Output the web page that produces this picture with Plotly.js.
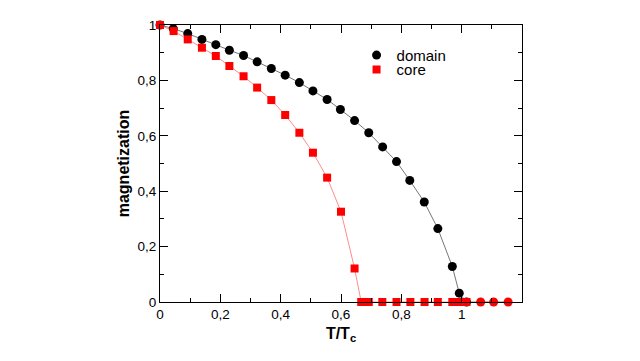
<!DOCTYPE html>
<html>
<head>
<meta charset="utf-8">
<script src="https://cdn.plot.ly/plotly-3.0.1.min.js"></script>
<style>html,body{margin:0;padding:0;background:#fff;}#chart{width:640px;height:361px;}</style>
</head>
<body>
<div id="chart"></div>
<script>
// T/Tc values and magnetization
const domainT = [0, 0.044, 0.092, 0.139, 0.185, 0.230, 0.277, 0.322, 0.369, 0.415, 0.462, 0.507, 0.554, 0.598, 0.645, 0.692, 0.738, 0.784, 0.828, 0.876, 0.921, 0.969, 0.992, 1.016, 1.063, 1.106, 1.154];
const domainM = [1.0, 0.987, 0.969, 0.948, 0.929, 0.909, 0.890, 0.867, 0.843, 0.819, 0.792, 0.762, 0.731, 0.695, 0.655, 0.611, 0.560, 0.507, 0.439, 0.361, 0.265, 0.128, 0.032, 0, 0, 0, 0];
const coreT = [0, 0.045, 0.092, 0.139, 0.185, 0.230, 0.277, 0.322, 0.369, 0.415, 0.462, 0.507, 0.554, 0.600, 0.645, 0.667, 0.692, 0.737, 0.784, 0.830, 0.877, 0.921, 0.969, 0.992, 1.016];
const coreM = [1.0, 0.978, 0.948, 0.918, 0.888, 0.852, 0.815, 0.774, 0.729, 0.675, 0.611, 0.539, 0.449, 0.326, 0.121, 0, 0, 0, 0, 0, 0, 0, 0, 0, 0];
const seriesNames = ['domain', 'core'];
const xTicks = [0, 0.2, 0.4, 0.6, 0.8, 1];
const xTitle = 'T/T<sub>c</sub>';
const yTitle = 'magnetization';

const domainColors = domainT.map(t => t > 1.04 ? '#ff0000' : '#000000');

const traces = [
  {
    x: domainT, y: domainM, name: seriesNames[0], type: 'scatter', mode: 'lines',
    line: {color: '#777777', width: 1}, showlegend: false, hoverinfo: 'skip'
  },
  {
    x: coreT, y: coreM, name: seriesNames[1], type: 'scatter', mode: 'lines',
    line: {color: '#ff8c8c', width: 1}, showlegend: false, hoverinfo: 'skip'
  },
  {
    x: domainT, y: domainM, name: seriesNames[0], type: 'scatter', mode: 'markers',
    marker: {symbol: 'circle', size: 9, color: domainColors},
    cliponaxis: false
  },
  {
    x: coreT, y: coreM, name: seriesNames[1], type: 'scatter', mode: 'markers',
    marker: {symbol: 'square', size: 8, color: '#ff0000'},
    cliponaxis: false
  }
];

const font = {family: 'Liberation Sans, Arial, sans-serif', color: '#000'};

const layout = {
  width: 640, height: 361,
  margin: {l: 160, r: 118, t: 25, b: 59, pad: 0},
  paper_bgcolor: '#fff', plot_bgcolor: '#fff',
  separators: ', ',
  font: font,
  showlegend: true,
  legend: {
    x: 0.543, y: 0.95, xanchor: 'left', yanchor: 'top',
    bgcolor: 'rgba(0,0,0,0)', borderwidth: 0,
    font: {family: font.family, size: 15, color: '#000'},
    itemwidth: 30
  },
  xaxis: {
    range: [0, 1.2], tickmode: 'array', tickvals: xTicks,
    ticks: 'inside', ticklen: 8, tickwidth: 1, tickcolor: '#000',
    minor: {tickmode: 'linear', tick0: 0, dtick: 0.1, ticks: 'inside', ticklen: 4, tickcolor: '#000', showgrid: false},
    showline: true, linecolor: '#000', linewidth: 1, mirror: 'ticks',
    showgrid: false, zeroline: false,
    tickfont: {family: font.family, size: 13.5, color: '#000'},
    title: {text: xTitle, font: {family: font.family, size: 16, color: '#000', weight: 'bold'}, standoff: 6},
    automargin: false
  },
  yaxis: {
    range: [0, 1], tickmode: 'linear', tick0: 0, dtick: 0.2,
    ticks: 'inside', ticklen: 8, tickwidth: 1, tickcolor: '#000',
    minor: {tickmode: 'linear', tick0: 0, dtick: 0.1, ticks: 'inside', ticklen: 4, tickcolor: '#000', showgrid: false},
    showline: true, linecolor: '#000', linewidth: 1, mirror: 'ticks',
    showgrid: false, zeroline: false,
    tickfont: {family: font.family, size: 13.5, color: '#000'},
    title: {text: yTitle, font: {family: font.family, size: 16, color: '#000', weight: 'bold'}, standoff: 3},
    automargin: false
  }
};

Plotly.newPlot('chart', traces, layout, {staticPlot: true, displayModeBar: false}).then(function () {
  // tighten the legend row spacing to match the reference
  const items = document.querySelectorAll('.legend .traces');
  if (items.length > 1) {
    const m = /translate\(\s*([-\d.]+)[ ,]+([-\d.]+)\s*\)/.exec(items[0].getAttribute('transform') || '');
    if (m) {
      const x0 = parseFloat(m[1]), y0 = parseFloat(m[2]);
      items[1].setAttribute('transform', 'translate(' + x0 + ',' + (y0 + 14.5) + ')');
    }
  }
});
</script>
</body>
</html>
